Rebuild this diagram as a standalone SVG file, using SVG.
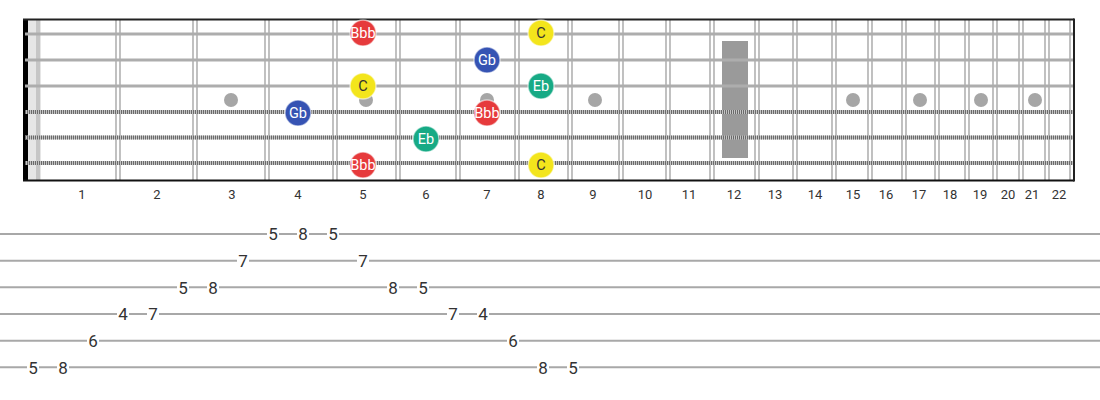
<svg xmlns="http://www.w3.org/2000/svg" width="1100" height="400" viewBox="0 0 1100 400">
<style>
.fret{stroke:#bababa;stroke-width:1.8}
.plain{stroke:#adadad;stroke-width:3}
.woundbase{stroke:#c4c4c4;stroke-width:4}
.wound{stroke:#6a6a6a;stroke-width:4;stroke-dasharray:1 1}
.inlay{fill:#a6a6a6}
.flab{font-family:Roboto,"Liberation Sans",sans-serif;font-size:13px;fill:#333;text-anchor:middle}
.note text{font-family:Roboto,"Liberation Sans",sans-serif;font-size:14.5px;text-anchor:middle;dominant-baseline:central}
.note circle{stroke:#ffffff;stroke-opacity:0.55;stroke-width:1.5}
.red circle{fill:#e63a3c}.red text{fill:#fff}
.yel circle{fill:#f3e51c}.yel text{fill:#333}
.blu circle{fill:#3653b3}.blu text{fill:#fff}
.grn circle{fill:#17aa85}.grn text{fill:#fff}
.tabline{stroke:#a8a8a8;stroke-width:2}
.tn rect{fill:#fff}
.tn text{font-family:Roboto,"Liberation Sans",sans-serif;font-size:17px;fill:#333;text-anchor:middle;dominant-baseline:central}
</style>
<g id="fretboard">
<rect x="28" y="20" width="13" height="160" fill="#e6e6e6"/>
<rect x="36" y="20" width="4" height="160" fill="#c6c6c6"/>
<g id="frets">
<line class="fret" x1="116" y1="20" x2="116" y2="180"/><line class="fret" x1="120" y1="20" x2="120" y2="180"/>
<line class="fret" x1="193" y1="20" x2="193" y2="180"/><line class="fret" x1="197" y1="20" x2="197" y2="180"/>
<line class="fret" x1="265" y1="20" x2="265" y2="180"/><line class="fret" x1="269" y1="20" x2="269" y2="180"/>
<line class="fret" x1="333" y1="20" x2="333" y2="180"/><line class="fret" x1="337" y1="20" x2="337" y2="180"/>
<line class="fret" x1="396" y1="20" x2="396" y2="180"/><line class="fret" x1="400" y1="20" x2="400" y2="180"/>
<line class="fret" x1="456" y1="20" x2="456" y2="180"/><line class="fret" x1="460" y1="20" x2="460" y2="180"/>
<line class="fret" x1="515" y1="20" x2="515" y2="180"/><line class="fret" x1="519" y1="20" x2="519" y2="180"/>
<line class="fret" x1="568" y1="20" x2="568" y2="180"/><line class="fret" x1="572" y1="20" x2="572" y2="180"/>
<line class="fret" x1="619" y1="20" x2="619" y2="180"/><line class="fret" x1="623" y1="20" x2="623" y2="180"/>
<line class="fret" x1="666" y1="20" x2="666" y2="180"/><line class="fret" x1="670" y1="20" x2="670" y2="180"/>
<line class="fret" x1="710" y1="20" x2="710" y2="180"/><line class="fret" x1="714" y1="20" x2="714" y2="180"/>
<line class="fret" x1="755" y1="20" x2="755" y2="180"/><line class="fret" x1="759" y1="20" x2="759" y2="180"/>
<line class="fret" x1="793" y1="20" x2="793" y2="180"/><line class="fret" x1="797" y1="20" x2="797" y2="180"/>
<line class="fret" x1="832" y1="20" x2="832" y2="180"/><line class="fret" x1="836" y1="20" x2="836" y2="180"/>
<line class="fret" x1="868" y1="20" x2="868" y2="180"/><line class="fret" x1="872" y1="20" x2="872" y2="180"/>
<line class="fret" x1="902" y1="20" x2="902" y2="180"/><line class="fret" x1="906" y1="20" x2="906" y2="180"/>
<line class="fret" x1="935" y1="20" x2="935" y2="180"/><line class="fret" x1="939" y1="20" x2="939" y2="180"/>
<line class="fret" x1="965" y1="20" x2="965" y2="180"/><line class="fret" x1="969" y1="20" x2="969" y2="180"/>
<line class="fret" x1="993" y1="20" x2="993" y2="180"/><line class="fret" x1="997" y1="20" x2="997" y2="180"/>
<line class="fret" x1="1019" y1="20" x2="1019" y2="180"/><line class="fret" x1="1023" y1="20" x2="1023" y2="180"/>
<line class="fret" x1="1045" y1="20" x2="1045" y2="180"/><line class="fret" x1="1049" y1="20" x2="1049" y2="180"/>
<line class="fret" x1="1070" y1="20" x2="1070" y2="180"/>
</g>
<g id="inlays">
<circle class="inlay" cx="231" cy="100" r="7"/>
<circle class="inlay" cx="366" cy="100" r="7"/>
<circle class="inlay" cx="487" cy="100" r="7"/>
<circle class="inlay" cx="595" cy="100" r="7"/>
<rect x="722" y="41" width="26" height="117" fill="#9a9a9a"/>
<circle class="inlay" cx="853" cy="100" r="7"/>
<circle class="inlay" cx="920" cy="100" r="7"/>
<circle class="inlay" cx="981" cy="100" r="7"/>
<circle class="inlay" cx="1035" cy="100" r="7"/>
</g>
<rect x="23" y="19" width="5" height="162" fill="#000"/>
<line x1="23" y1="19.5" x2="1074" y2="19.5" stroke="#222" stroke-width="2"/>
<line x1="23" y1="180.5" x2="1074" y2="180.5" stroke="#111" stroke-width="2"/>
<line x1="1074" y1="18.5" x2="1074" y2="181.5" stroke="#222" stroke-width="2"/>
<g id="strings">
<line class="plain" x1="25" y1="34" x2="1073" y2="34"/>
<line class="plain" x1="25" y1="60" x2="1073" y2="60"/>
<line class="plain" x1="25" y1="86" x2="1073" y2="86"/>
<line class="woundbase" x1="25" y1="112" x2="1073" y2="112"/><line class="wound" x1="25" y1="112" x2="1073" y2="112"/>
<line class="woundbase" x1="25" y1="137.5" x2="1073" y2="137.5"/><line class="wound" x1="25" y1="137.5" x2="1073" y2="137.5"/>
<line class="woundbase" x1="25" y1="163" x2="1073" y2="163"/><line class="wound" x1="25" y1="163" x2="1073" y2="163"/>
</g>
</g>
<g id="fret-labels">
<text class="flab" x="82" y="199">1</text><text class="flab" x="157" y="199">2</text><text class="flab" x="232" y="199">3</text>
<text class="flab" x="298" y="199">4</text><text class="flab" x="363" y="199">5</text><text class="flab" x="426" y="199">6</text>
<text class="flab" x="487" y="199">7</text><text class="flab" x="541" y="199">8</text><text class="flab" x="593" y="199">9</text>
<text class="flab" x="645" y="199">10</text><text class="flab" x="689" y="199">11</text><text class="flab" x="734" y="199">12</text>
<text class="flab" x="775" y="199">13</text><text class="flab" x="815" y="199">14</text><text class="flab" x="853" y="199">15</text>
<text class="flab" x="886" y="199">16</text><text class="flab" x="919" y="199">17</text><text class="flab" x="950" y="199">18</text>
<text class="flab" x="980" y="199">19</text><text class="flab" x="1008" y="199">20</text><text class="flab" x="1032" y="199">21</text>
<text class="flab" x="1059" y="199">22</text>
</g>
<g id="note-s1-f5" class="note red"><circle cx="363" cy="33" r="13"/><text x="363" y="33">Bbb</text></g>
<g id="note-s1-f8" class="note yel"><circle cx="541" cy="33" r="13"/><text x="541" y="33">C</text></g>
<g id="note-s2-f7" class="note blu"><circle cx="487" cy="60" r="13"/><text x="487" y="60">Gb</text></g>
<g id="note-s3-f5" class="note yel"><circle cx="363" cy="86" r="13"/><text x="363" y="86">C</text></g>
<g id="note-s3-f8" class="note grn"><circle cx="541" cy="86" r="13"/><text x="541" y="86">Eb</text></g>
<g id="note-s4-f4" class="note blu"><circle cx="298" cy="113" r="13"/><text x="298" y="113">Gb</text></g>
<g id="note-s4-f7" class="note red"><circle cx="487" cy="113" r="13"/><text x="487" y="113">Bbb</text></g>
<g id="note-s5-f6" class="note grn"><circle cx="426" cy="139" r="13"/><text x="426" y="139">Eb</text></g>
<g id="note-s6-f5" class="note red"><circle cx="363" cy="165" r="13"/><text x="363" y="165">Bbb</text></g>
<g id="note-s6-f8" class="note yel"><circle cx="541" cy="165" r="13"/><text x="541" y="165">C</text></g>
<g id="tab">
<line class="tabline" x1="0" y1="234" x2="1100" y2="234"/>
<line class="tabline" x1="0" y1="260.7" x2="1100" y2="260.7"/>
<line class="tabline" x1="0" y1="287.3" x2="1100" y2="287.3"/>
<line class="tabline" x1="0" y1="314" x2="1100" y2="314"/>
<line class="tabline" x1="0" y1="340.7" x2="1100" y2="340.7"/>
<line class="tabline" x1="0" y1="367.3" x2="1100" y2="367.3"/>
<g class="tn"><rect x="267" y="226" width="12" height="16"/><text x="273" y="234">5</text></g>
<g class="tn"><rect x="297" y="226" width="12" height="16"/><text x="303" y="234">8</text></g>
<g class="tn"><rect x="327" y="226" width="12" height="16"/><text x="333" y="234">5</text></g>
<g class="tn"><rect x="237" y="253" width="12" height="16"/><text x="243" y="261">7</text></g>
<g class="tn"><rect x="357" y="253" width="12" height="16"/><text x="363" y="261">7</text></g>
<g class="tn"><rect x="177" y="279" width="12" height="16"/><text x="183" y="287.5">5</text></g>
<g class="tn"><rect x="207" y="279" width="12" height="16"/><text x="213" y="287.5">8</text></g>
<g class="tn"><rect x="387" y="279" width="12" height="16"/><text x="393" y="287.5">8</text></g>
<g class="tn"><rect x="417" y="279" width="12" height="16"/><text x="423" y="287.5">5</text></g>
<g class="tn"><rect x="117" y="306" width="12" height="16"/><text x="123" y="314">4</text></g>
<g class="tn"><rect x="147" y="306" width="12" height="16"/><text x="153" y="314">7</text></g>
<g class="tn"><rect x="447" y="306" width="12" height="16"/><text x="453" y="314">7</text></g>
<g class="tn"><rect x="477" y="306" width="12" height="16"/><text x="483" y="314">4</text></g>
<g class="tn"><rect x="87" y="333" width="12" height="16"/><text x="93" y="341">6</text></g>
<g class="tn"><rect x="507" y="333" width="12" height="16"/><text x="513" y="341">6</text></g>
<g class="tn"><rect x="27" y="359" width="12" height="16"/><text x="33" y="367.5">5</text></g>
<g class="tn"><rect x="57" y="359" width="12" height="16"/><text x="63" y="367.5">8</text></g>
<g class="tn"><rect x="537" y="359" width="12" height="16"/><text x="543" y="367.5">8</text></g>
<g class="tn"><rect x="567" y="359" width="12" height="16"/><text x="573" y="367.5">5</text></g>
</g>
</svg>
